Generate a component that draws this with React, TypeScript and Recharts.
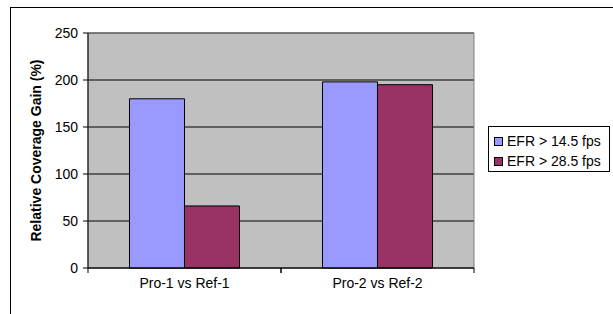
import React from 'react'
import {
  BarChart,
  Bar,
  XAxis,
  YAxis,
  CartesianGrid,
  Legend,
  ReferenceArea,
} from 'recharts'

const categories = ['Pro-1 vs Ref-1', 'Pro-2 vs Ref-2']
const efr145 = [180, 198]
const efr285 = [66, 195]
const yTicks = [0, 50, 100, 150, 200, 250]

const data = categories.map((name, i) => ({
  name,
  a: efr145[i],
  b: efr285[i],
}))

const font = 'Arial, "Liberation Sans", sans-serif'

function XTick(props: any) {
  const { x, y, payload } = props
  const off = payload?.offset ?? 96.5
  return (
    <g>
      <line x1={x - off} x2={x - off} y1={y} y2={y + 5} stroke="#000" />
      <line x1={x + off} x2={x + off} y1={y} y2={y + 5} stroke="#000" />
      <text x={x} y={y + 20} textAnchor="middle" fontSize={14} fill="#000" fontFamily={font}>
        {payload.value}
      </text>
    </g>
  )
}

function LegendBox(props: any) {
  const items = props.payload || []
  return (
    <div
      style={{
        border: '1px solid #000',
        width: 122,
        height: 46,
        boxSizing: 'border-box',
        padding: '4px 0 0 5px',
        background: '#fff',
        fontFamily: font,
        fontSize: 14,
      }}
    >
      {items.map((it: any) => (
        <div key={it.value} style={{ display: 'flex', alignItems: 'center', height: 20 }}>
          <span
            style={{
              width: 7,
              height: 7,
              background: it.color,
              border: '1px solid #000',
              marginRight: 4,
            }}
          />
          <span>{it.value}</span>
        </div>
      ))}
    </div>
  )
}

export default function App() {
  return (
    <div
      style={{
        position: 'absolute',
        left: 0,
        top: 0,
        width: 613,
        height: 314,
        overflow: 'hidden',
        background: '#fff',
      }}
    >
      <div
        style={{
          position: 'absolute',
          left: 10,
          top: 7,
          width: 700,
          height: 400,
          border: '1px solid #000',
        }}
      />
      <div style={{ position: 'absolute', left: 0, top: 0 }}>
        <BarChart
          width={613}
          height={314}
          data={data}
          margin={{ top: 33, right: 17, bottom: 16, left: 10 }}
          barCategoryGap="21.5%"
          barGap={0}
        >
          <CartesianGrid vertical={false} stroke="#000" fill="#c0c0c0" fillOpacity={1} />
          <ReferenceArea y1={0} y2={250} fill="none" stroke="#808080" />
          <XAxis
            dataKey="name"
            height={30}
            axisLine={{ stroke: '#000' }}
            tickLine={false}
            tickSize={0}
            tickMargin={0}
            tick={<XTick />}
            interval={0}
          />
          <YAxis
            width={78}
            domain={[0, 250]}
            ticks={yTicks}
            axisLine={{ stroke: '#000' }}
            tickLine={{ stroke: '#000' }}
            tickSize={5}
            tickMargin={5}
            tick={{ fontSize: 14, fill: '#000', fontFamily: font }}
            label={{
              value: 'Relative Coverage Gain (%)',
              angle: -90,
              position: 'insideLeft',
              offset: 26,
              style: {
                textAnchor: 'middle',
                fontSize: 14,
                fontWeight: 'bold',
                fill: '#000',
                fontFamily: font,
              },
            }}
          />
          <Legend
            layout="vertical"
            align="right"
            verticalAlign="middle"
            content={<LegendBox />}
            wrapperStyle={{ position: 'absolute', left: 488, top: 126, width: 122, height: 46 }}
          />
          <Bar
            dataKey="a"
            name="EFR > 14.5 fps"
            fill="#9999ff"
            stroke="#000"
            strokeWidth={1}
            isAnimationActive={false}
          />
          <Bar
            dataKey="b"
            name="EFR > 28.5 fps"
            fill="#993366"
            stroke="#000"
            strokeWidth={1}
            isAnimationActive={false}
          />
        </BarChart>
      </div>
    </div>
  )
}
